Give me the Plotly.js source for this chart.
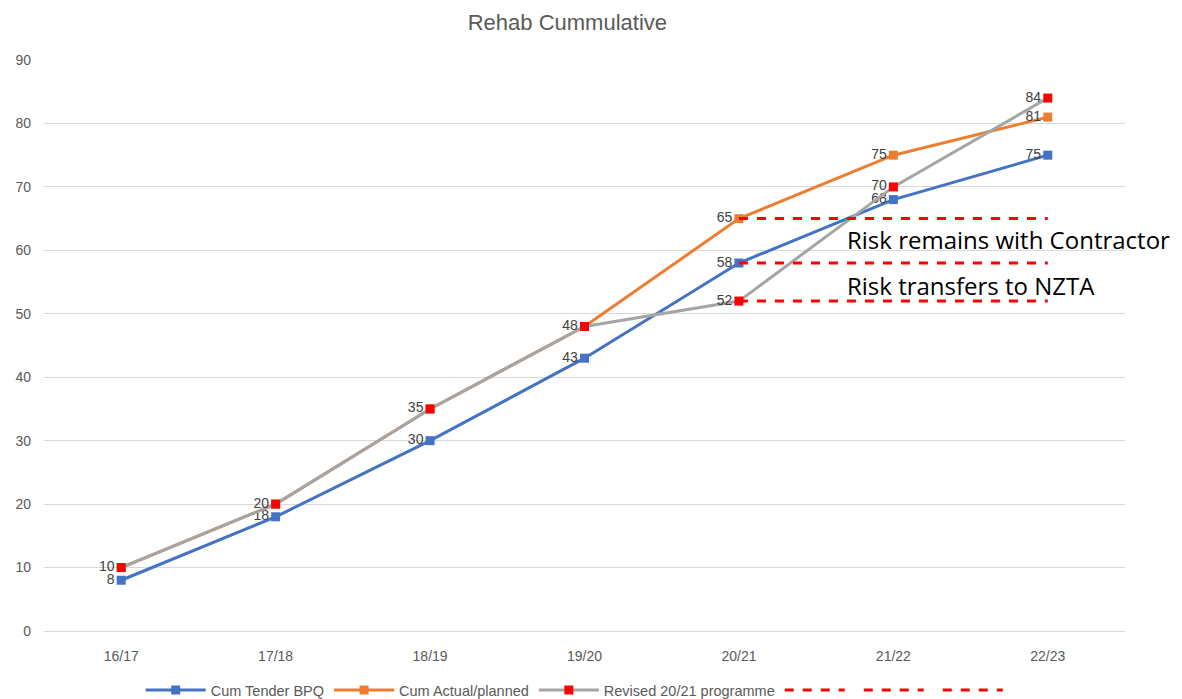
<!DOCTYPE html>
<html>
<head>
<meta charset="utf-8">
<script src="https://cdn.plot.ly/plotly-3.0.1.min.js"></script>
<style>html,body{margin:0;padding:0;background:#fff;}#chart{width:1182px;height:699px;}</style>
</head>
<body>
<div id="chart"></div>
<script>
const categories = ["16/17","17/18","18/19","19/20","20/21","21/22","22/23"];
const tenderBPQ = [8,18,30,43,58,68,75];
const actualPlanned = [10,20,35,48,65,75,81];
const revised = [10,20,35,48,52,70,84];
const riskCats = ["20/21","22/23"];
const riskContractor = [65,65];
const riskMid = [58,58];
const riskNZTA = [52,52];
const annotationTexts = ["Risk remains with Contractor","Risk transfers to NZTA"];

const labelFont = {family:"Liberation Sans, Arial, sans-serif", size:14, color:"#404040"};

function series(name, y, lineColor, markerColor, text){
  return {
    type:"scatter", mode:"lines+markers+text", name:name,
    x:categories, y:y, text:text, textposition:"middle left",
    textfont:labelFont, cliponaxis:false,
    line:{color:lineColor, width:3},
    marker:{symbol:"square", size:9, color:markerColor}
  };
}
function riskLine(y){
  return {type:"scatter", mode:"lines", name:" ", x:riskCats, y:y,
    line:{color:"#FF0000", width:3, dash:"dash"}, hoverinfo:"skip"};
}

// orange labels coincide exactly with the grey ones where the values are equal
const orangeText = actualPlanned.map((v,i) => v === revised[i] ? "" : String(v));

const data = [
  series("Cum Tender BPQ", tenderBPQ, "#4472C4", "#4472C4", tenderBPQ.map(String)),
  series("Cum Actual/planned", actualPlanned, "#ED7D31", "#ED7D31", orangeText),
  series("Revised 20/21 programme", revised, "#A5A5A5", "#FF0000", revised.map(String)),
  riskLine(riskContractor),
  riskLine(riskMid),
  riskLine(riskNZTA)
];

const annX = (845-44)/(1182-44-57);
const layout = {
  width:1182, height:699,
  margin:{l:44, r:57, t:60, b:68},
  paper_bgcolor:"#fff", plot_bgcolor:"#fff",
  title:{text:"Rehab Cummulative", x:0.48, xanchor:"center", y:0.968, yanchor:"middle",
    font:{family:"Liberation Sans, Arial, sans-serif", size:22, color:"#595959"}},
  font:{family:"Liberation Sans, Arial, sans-serif", color:"#595959"},
  xaxis:{type:"category", showgrid:false, zeroline:false, showline:true, linecolor:"#D9D9D9", linewidth:1,
    ticks:"", ticklabelstandoff:12, tickfont:{size:14, color:"#595959"}, range:[-0.5,6.5], fixedrange:true},
  yaxis:{range:[0,90], dtick:10, showgrid:true, gridcolor:"#D9D9D9", gridwidth:1, zeroline:false,
    showline:false, ticks:"", ticklabelstandoff:12, tickfont:{size:14, color:"#595959"}, fixedrange:true},
  showlegend:true,
  legend:{orientation:"h", x:0.49, xanchor:"center", xref:"container", yref:"container", y:(699-690)/699, yanchor:"middle",
    font:{size:14.5, color:"#595959"}, traceorder:"normal", itemwidth:60},
  annotations:[
    {xref:"paper", yref:"paper", x:annX, y:(631-239)/571, xanchor:"left", yanchor:"middle",
      text:annotationTexts[0], showarrow:false, font:{family:"Open Sans, sans-serif", size:24, color:"#000"}},
    {xref:"paper", yref:"paper", x:annX, y:(631-285)/571, xanchor:"left", yanchor:"middle",
      text:annotationTexts[1], showarrow:false, font:{family:"Open Sans, sans-serif", size:24, color:"#000"}}
  ]
};

Plotly.newPlot("chart", data, layout, {displayModeBar:false, staticPlot:true});
</script>
</body>
</html>
